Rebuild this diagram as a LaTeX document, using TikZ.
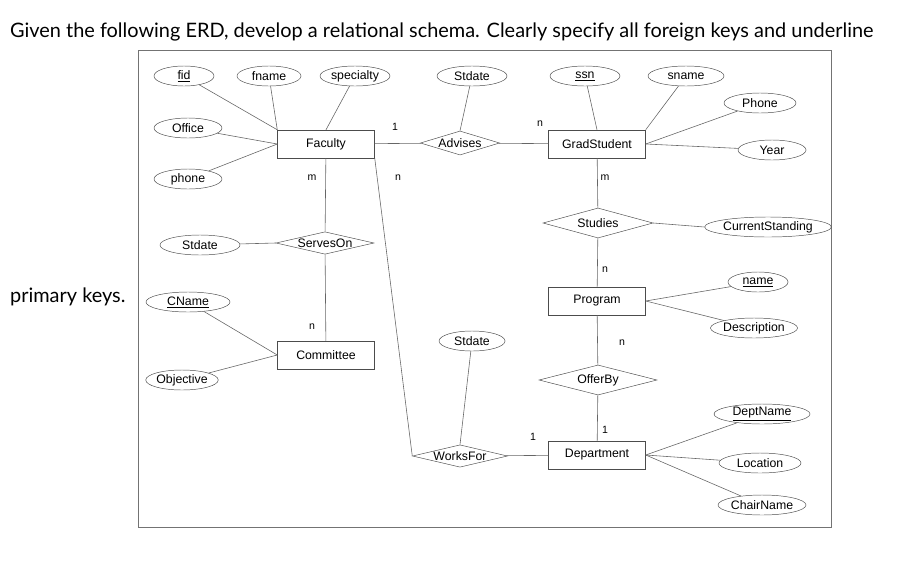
\documentclass[tikz,border=0pt]{standalone}
\usepackage{fontspec}
\setmainfont{Liberation Sans}
\newfontfamily\headfont{Lato}
\usetikzlibrary{shapes.geometric}
\begin{document}
\begin{tikzpicture}[x=0.03cm,y=-0.03cm,
  every node/.style={font=\fontsize{10.5}{12}\selectfont},
  ent/.style={draw=black!70,rectangle,minimum width=97*0.03cm,minimum height=28*0.03cm,inner sep=0},
  rel/.style={draw=black!70,diamond,aspect=4,inner sep=0},
  att/.style={draw=black!70,ellipse,inner sep=0,minimum height=20*0.03cm},
  ln/.style={draw=black!60,line width=0.5pt},
  card/.style={font=\fontsize{9}{10}\selectfont}]
\useasboundingbox (0,0) rectangle (899,581);
\node[anchor=west,font=\headfont\fontsize{17}{20}\selectfont] (h1) at (6,32) {Given the following ERD, develop a relational schema. Clearly specify all foreign keys and underline};
\node[anchor=west,font=\headfont\fontsize{17}{20}\selectfont] (h2) at (6,297) {primary keys.};
\draw[black!55] (138,50) rectangle (831,527);
% entities
\node[ent] (fac) at (326,144) {Faculty};
\node[ent] (gs) at (597,144) {GradStudent};
\node[ent] (com) at (326,355) {Committee};
\node[ent] (prog) at (597,301) {Program};
\node[ent] (dep) at (597,455) {Department};
% relationships
\node[rel,minimum width=76*0.03cm,minimum height=24*0.03cm] (adv) at (460,143) {Advises};
\node[rel,minimum width=98*0.03cm,minimum height=22*0.03cm] (srv) at (325,243) {ServesOn};
\node[rel,minimum width=110*0.03cm,minimum height=30*0.03cm] (stu) at (598,223) {Studies};
\node[rel,minimum width=118*0.03cm,minimum height=30*0.03cm] (off) at (598,380) {OfferBy};
\node[rel,minimum width=95*0.03cm,minimum height=22*0.03cm] (wf) at (460,456) {WorksFor};
% attributes
\node[att,minimum width=60*0.03cm] (fid) at (184,76) {\underline{fid}};
\node[att,minimum width=64*0.03cm] (fname) at (269,76) {fname};
\node[att,minimum width=70*0.03cm] (spec) at (355,76) {specialty};
\node[att,minimum width=70*0.03cm] (sd1) at (472,76) {Stdate};
\node[att,minimum width=70*0.03cm] (ssn) at (585,76) {\underline{ssn}};
\node[att,minimum width=76*0.03cm] (sname) at (686,76) {sname};
\node[att,minimum width=72*0.03cm] (phone2) at (760,103) {Phone};
\node[att,minimum width=68*0.03cm] (year) at (772,150) {Year};
\node[att,minimum width=68*0.03cm] (office) at (188,128) {Office};
\node[att,minimum width=68*0.03cm] (phone) at (188,179) {phone};
\node[att,minimum width=80*0.03cm] (sd2) at (200,245) {Stdate};
\node[att,minimum width=84*0.03cm] (cname) at (188,302) {\underline{CName}};
\node[att,minimum width=68*0.03cm] (obj) at (182,380) {Objective};
\node[att,minimum width=66*0.03cm] (sd3) at (472,341) {Stdate};
\node[att,minimum width=110*0.03cm] (cs) at (768,227) {CurrentStanding};
\node[att,minimum width=60*0.03cm] (name) at (758,282) {\underline{name}};
\node[att,minimum width=86*0.03cm] (desc) at (754,328) {Description};
\node[att,minimum width=96*0.03cm] (dn) at (762,414) {\underline{DeptName}};
\node[att,minimum width=82*0.03cm] (loc) at (760,463) {Location};
\node[att,minimum width=82*0.03cm] (chair) at (762,505) {ChairName};
% connectors
\draw[ln] (fid) -- (fac.north west);
\draw[ln] (fname) -- (fac.north west);
\draw[ln] (spec) -- (fac.north);
\draw[ln] (office) -- (fac.west);
\draw[ln] (phone) -- (fac.west);
\draw[ln] (fac) -- (adv) -- (gs);
\draw[ln] (sd1) -- (adv.north);
\draw[ln] (ssn) -- (gs.north);
\draw[ln] (sname) -- (gs.north east);
\draw[ln] (phone2) -- (gs.east);
\draw[ln] (year) -- (gs.east);
\draw[ln] (fac) -- (srv) -- (com);
\draw[ln] (sd2) -- (srv.west);
\draw[ln] (cname) -- (com.west);
\draw[ln] (obj) -- (com.west);
\draw[ln] (fac.south east) -- (wf.west);
\draw[ln] (wf) -- (dep);
\draw[ln] (sd3) -- (wf.north);
\draw[ln] (gs) -- (stu) -- (prog);
\draw[ln] (stu.east) -- (cs.west);
\draw[ln] (name) -- (prog.east);
\draw[ln] (desc) -- (prog.east);
\draw[ln] (prog) -- (off) -- (dep);
\draw[ln] (dn) -- (dep.east);
\draw[ln] (loc) -- (dep.east);
\draw[ln] (chair) -- (dep.east);
% cardinalities
\node[card] (c1) at (395,127) {1};
\node[card] (c2) at (540,124) {n};
\node[card] (c3) at (312,178) {m};
\node[card] (c4) at (398,178) {n};
\node[card] (c5) at (605,178) {m};
\node[card] (c6) at (605,270) {n};
\node[card] (c7) at (312,327) {n};
\node[card] (c8) at (622,343) {n};
\node[card] (c9) at (605,430) {1};
\node[card] (c10) at (533,437) {1};
\end{tikzpicture}
\end{document}
